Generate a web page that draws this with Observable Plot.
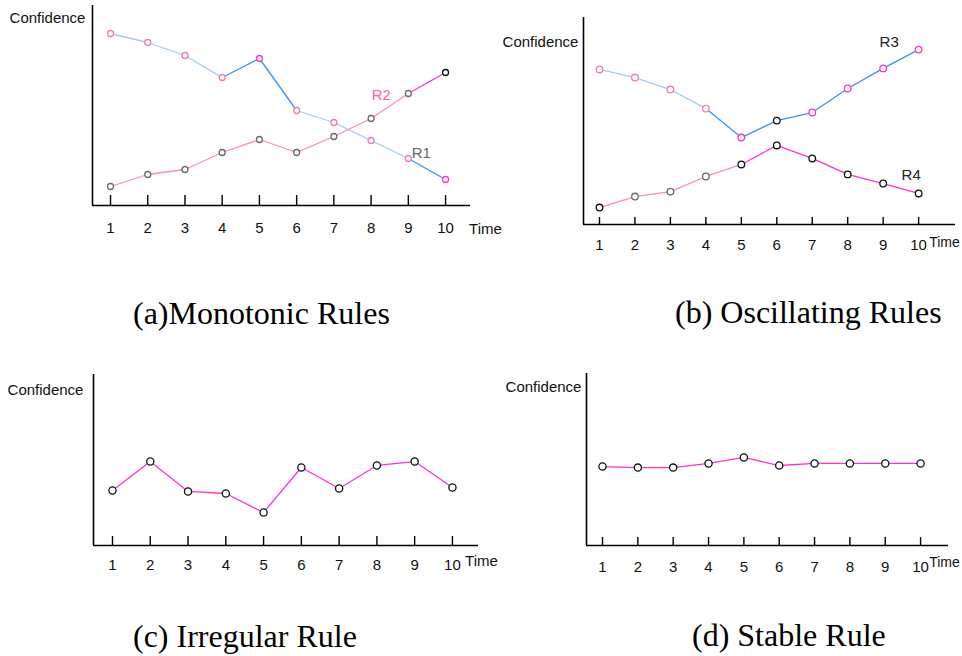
<!DOCTYPE html>
<html>
<head>
<meta charset="utf-8">
<script src="https://cdn.jsdelivr.net/npm/d3@7"></script>
<script src="https://cdn.jsdelivr.net/npm/@observablehq/plot@0.6"></script>
<style>
  html, body { margin: 0; padding: 0; background: white; }
  #root { position: relative; width: 962px; height: 656px; overflow: hidden; background: white; }
  .panel { position: absolute; }
  .caption { position: absolute; font-family: "Liberation Serif", "Times New Roman", serif; font-size: 32px; color: #000; white-space: nowrap; line-height: 1; }
</style>
</head>
<body>
<div id="root"></div>
<script>
// ---------- data ----------
const time = [1, 2, 3, 4, 5, 6, 7, 8, 9, 10];
const timeTickLabels = ["1", "2", "3", "4", "5", "6", "7", "8", "9", "10"];
const xAxisTitle = "Time";
const yAxisTitle = "Confidence";

// (a) Monotonic rules
const r1 = [0.86, 0.815, 0.75, 0.64, 0.735, 0.475, 0.415, 0.325, 0.235, 0.13];
const r2 = [0.095, 0.155, 0.18, 0.265, 0.33, 0.265, 0.345, 0.435, 0.56, 0.665];
// (b) Oscillating rules
const r3 = [0.749, 0.71, 0.652, 0.56, 0.42, 0.502, 0.541, 0.657, 0.754, 0.845];
const r4 = [0.082, 0.135, 0.159, 0.232, 0.29, 0.382, 0.319, 0.242, 0.198, 0.15];
// (c) Irregular rule
const irregular = [0.322, 0.491, 0.316, 0.304, 0.193, 0.456, 0.333, 0.468, 0.491, 0.339];
// (d) Stable rule
const stable = [0.459, 0.453, 0.453, 0.477, 0.512, 0.465, 0.477, 0.477, 0.477, 0.477];

const seriesNames = ["R1", "R2", "R3", "R4"];
const captions = ["(a)Monotonic Rules", "(b) Oscillating Rules", "(c) Irregular Rule", "(d) Stable Rule"];

// ---------- styling ----------
const LB = "#9dcdf0", BLUE = "#3797e6", PINK = "#f68dbf", MAG = "#ff30d8",
      PKM = "#f27ab2", GRAY = "#6a6a6a", BLACK = "#111111";
const FONT = "'Liberation Sans', Arial, Helvetica, sans-serif";
const FS = 15;

function pts(values) { return time.map((t, i) => ({t, v: values[i], i})); }
function segs(values) {
  return d3.pairs(pts(values)).map(([a, b]) => ({x1: a.t, y1: a.v, x2: b.t, y2: b.v, i: a.i}));
}

function panel(cfg) {
  const plotH = cfg.height - cfg.marginTop - cfg.marginBottom;
  const marks = [
    Plot.ruleX([cfg.xDomain[0]], {stroke: "#000", strokeWidth: 1.6}),
    Plot.ruleY([0], {stroke: "#000", strokeWidth: 1.6}),
    Plot.ruleX(time, {x: d => d, insetTop: plotH - cfg.tickLen, stroke: "#000", strokeWidth: 1.4}),
    Plot.axisX(time, {tickSize: 0, tickPadding: cfg.tickPad, tickFormat: d => timeTickLabels[time.indexOf(d)], fontSize: FS, fill: "#111", fontFamily: FONT}),
    Plot.text([xAxisTitle], {frameAnchor: "bottom-right", textAnchor: "middle", lineAnchor: "middle", dx: cfg.timeDx, dy: cfg.timeDy, fontSize: cfg.timeFs || FS, fill: "#111", fontFamily: FONT}),
    Plot.text([yAxisTitle], {frameAnchor: "top-left", textAnchor: "middle", lineAnchor: "middle", dx: cfg.confDx, dy: cfg.confDy, fontSize: FS, fill: "#111", fontFamily: FONT})
  ];
  for (const s of cfg.series) {
    marks.push(Plot.link(segs(s.values), {x1: "x1", y1: "y1", x2: "x2", y2: "y2", stroke: d => s.seg[d.i], strokeWidth: 1.3}));
  }
  for (const s of cfg.series) {
    marks.push(Plot.dot(pts(s.values), {x: "t", y: "v", r: s.r || 3, stroke: d => s.mk[d.i], fill: "white", strokeWidth: 1.3}));
    if (s.label) {
      const p = pts(s.values)[s.labelAt];
      marks.push(Plot.text([p], {x: "t", y: "v", text: () => s.label, dx: s.ldx, dy: s.ldy, fill: s.lcolor, fontSize: FS, fontFamily: FONT}));
    }
  }
  const chart = Plot.plot({
    width: cfg.width, height: cfg.height,
    marginLeft: cfg.marginLeft, marginRight: cfg.marginRight,
    marginTop: cfg.marginTop, marginBottom: cfg.marginBottom,
    x: {domain: cfg.xDomain, axis: null},
    y: {domain: [0, 1], axis: null},
    color: {type: "identity"},
    style: {background: "none", overflow: "visible", fontFamily: FONT},
    marks
  });
  chart.classList.add("panel");
  chart.style.left = cfg.left + "px";
  chart.style.top = cfg.top + "px";
  chart.style.maxWidth = "none";
  return chart;
}

const root = document.getElementById("root");

root.appendChild(panel({
  left: 0, top: 0, width: 481, height: 250,
  marginLeft: 92, marginRight: 11, marginTop: 5, marginBottom: 45,
  xDomain: [0.516, 10.67], tickLen: 10, tickPad: 17,
  timeDx: 15, timeDy: 24, confDx: -45, confDy: 13,
  series: [
    {values: r1, seg: [LB, LB, LB, BLUE, BLUE, LB, LB, LB, BLUE],
     mk: [PKM, PKM, PKM, PKM, MAG, PKM, PKM, PKM, PKM, MAG],
     label: seriesNames[0], labelAt: 8, ldx: 13, ldy: -5, lcolor: "#666"},
    {values: r2, seg: [PINK, PINK, PINK, PINK, PINK, PINK, PINK, PINK, MAG],
     mk: [GRAY, GRAY, GRAY, GRAY, GRAY, GRAY, GRAY, GRAY, GRAY, BLACK],
     label: seriesNames[1], labelAt: 8, ldx: -27, ldy: 2, lcolor: "#ff5faa"}
  ]
}));

root.appendChild(panel({
  left: 481, top: 0, width: 481, height: 260,
  marginLeft: 102, marginRight: 7, marginTop: 17, marginBottom: 36,
  xDomain: [0.549, 11.04], tickLen: 7, tickPad: 15,
  timeDx: -11, timeDy: 18, timeFs: 14, confDx: -43, confDy: 25,
  series: [
    {values: r3, seg: [LB, LB, LB, BLUE, BLUE, BLUE, BLUE, BLUE, BLUE],
     mk: [PKM, PKM, PKM, PKM, MAG, BLACK, MAG, MAG, MAG, MAG], r: 3.3,
     label: seriesNames[2], labelAt: 8, ldx: 6, ldy: -26, lcolor: "#222"},
    {values: r4, seg: [PINK, PINK, PINK, PINK, MAG, MAG, MAG, MAG, MAG],
     mk: [BLACK, GRAY, GRAY, GRAY, BLACK, BLACK, BLACK, BLACK, BLACK, BLACK], r: 3.3,
     label: seriesNames[3], labelAt: 8, ldx: 28, ldy: -8, lcolor: "#222"}
  ]
}));

root.appendChild(panel({
  left: 0, top: 360, width: 481, height: 220,
  marginLeft: 93, marginRight: 3, marginTop: 14, marginBottom: 35,
  xDomain: [0.497, 10.69], tickLen: 9, tickPad: 14,
  timeDx: 3, timeDy: 16, confDx: -48, confDy: 16,
  series: [
    {values: irregular, seg: Array(9).fill(MAG), mk: Array(10).fill(BLACK), r: 3.6}
  ]
}));

root.appendChild(panel({
  left: 481, top: 360, width: 481, height: 220,
  marginLeft: 105, marginRight: 14, marginTop: 13, marginBottom: 35,
  xDomain: [0.547, 10.79], tickLen: 8, tickPad: 16,
  timeDx: -4, timeDy: 17, timeFs: 14, confDx: -43, confDy: 14,
  series: [
    {values: stable, seg: Array(9).fill(MAG), mk: Array(10).fill(BLACK), r: 3.6}
  ]
}));

const capPos = [[133, 297], [675, 296], [133, 620], [692, 619]];
captions.forEach((c, i) => {
  const d = document.createElement("div");
  d.className = "caption";
  d.textContent = c;
  d.style.left = capPos[i][0] + "px";
  d.style.top = capPos[i][1] + "px";
  root.appendChild(d);
});
</script>
</body>
</html>
